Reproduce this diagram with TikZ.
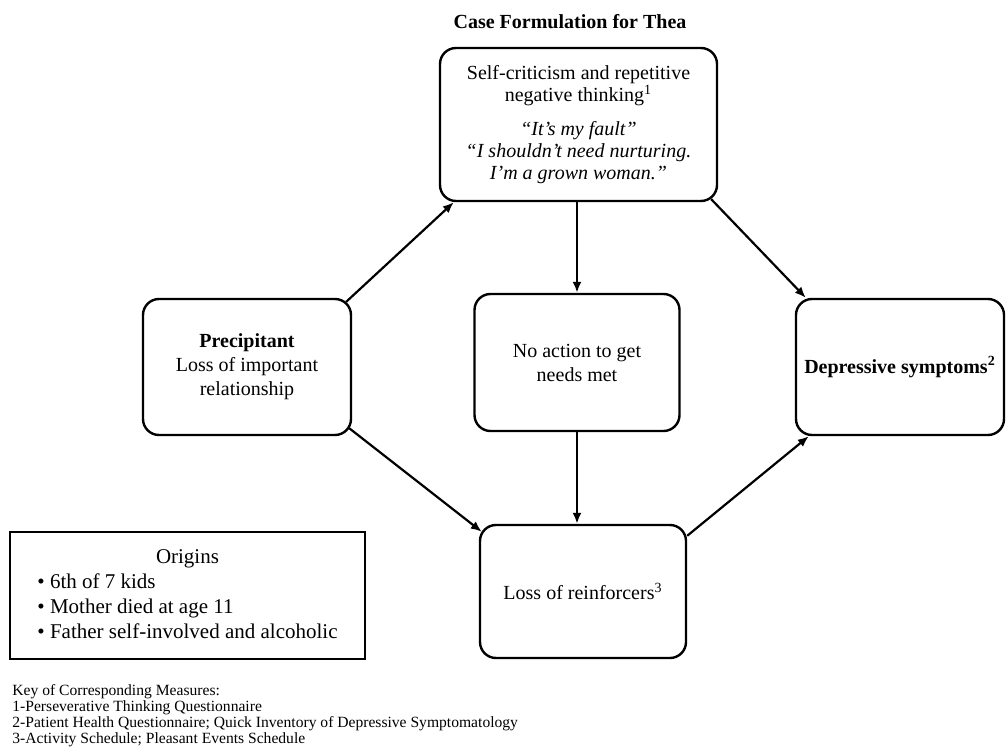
\documentclass[tikz,border=0pt]{standalone}
\usepackage{fontspec}
\setmainfont{Liberation Serif}
\usetikzlibrary{arrows.meta}
\begin{document}
\begin{tikzpicture}[x=0.5pt,y=-0.5pt,>={Latex[length=5.5pt,width=4.5pt]},
    box/.style={draw,line width=1.2pt,rounded corners=8pt,align=center,
        font=\fontsize{10}{12}\selectfont,minimum width=103pt,minimum height=68pt},
    arr/.style={->,line width=1.1pt}]
\useasboundingbox (0,0) rectangle (1006,754);
\node[font=\bfseries\fontsize{10}{12}\selectfont] (title) at (570,22) {Case Formulation for Thea};
\node[box,minimum width=138.5pt,minimum height=76.5pt,font=\fontsize{10}{11}\selectfont] (selfcrit) at (578.5,124.5)
    {Self-criticism and repetitive\\ negative thinking\textsuperscript{1}\\[6pt]
     \textit{``It's my fault''}\\ \textit{``I shouldn't need nurturing.}\\ \textit{I'm a grown woman.''}};
\node[box,minimum width=104pt] (precip) at (247,367) {\textbf{Precipitant}\\ Loss of important\\ relationship};
\node[box,minimum width=102.5pt,minimum height=68.5pt] (noaction) at (577,362.5) {No action to get\\ needs met};
\node[box,minimum width=104pt] (depress) at (900,367) {\textbf{Depressive symptoms\textsuperscript{2}}};
\node[box,minimum height=66.5pt] (lossrf) at (583,591.5) {Loss of reinforcers\textsuperscript{3}};
\node[draw,line width=1.2pt,minimum width=177.5pt,minimum height=63.5pt,font=\fontsize{10.5}{12.5}\selectfont] (origins) at (187.5,595.5)
    {\begin{tabular}{@{}l@{}}\multicolumn{1}{@{}c@{}}{Origins}\\ \textbullet\ 6th of 7 kids\\
     \textbullet\ Mother died at age 11\\ \textbullet\ Father self-involved and alcoholic\end{tabular}};
\node[anchor=north west,align=left,inner sep=0,font=\fontsize{7.8}{8}\selectfont] (key) at (12,684)
    {Key of Corresponding Measures:\\ 1-Perseverative Thinking Questionnaire\\
     2-Patient Health Questionnaire; Quick Inventory of Depressive Symptomatology\\
     3-Activity Schedule; Pleasant Events Schedule};
% arrows
\draw[arr]([xshift=-3pt,yshift=-2pt]precip.north east)--([xshift=7.5pt]selfcrit.south west);
\draw[arr](noaction.north |- selfcrit.south)--(noaction.north);
\draw[arr]([xshift=-3.5pt,yshift=1.5pt]selfcrit.south east)--([xshift=5.5pt]depress.north west);
\draw[arr]([xshift=-1.5pt,yshift=4pt]precip.south east)--([xshift=1.5pt,yshift=-4pt]lossrf.north west);
\draw[arr](noaction.south)--(noaction.south |- lossrf.north);
\draw[arr]([yshift=-6pt]lossrf.north east)--([xshift=7pt]depress.south west);
\end{tikzpicture}
\end{document}
